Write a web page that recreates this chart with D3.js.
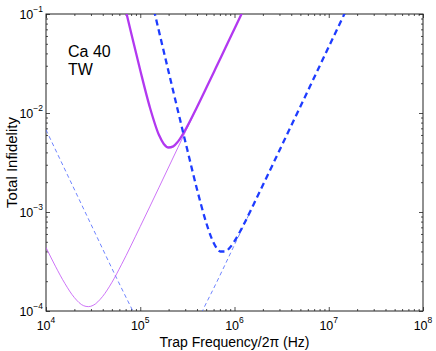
<!DOCTYPE html>
<html>
<head>
<meta charset="utf-8">
<script src="https://cdn.jsdelivr.net/npm/d3@7"></script>
<style>
  body { margin: 0; background: #fff; }
  svg { display: block; }
  text { font-family: "Liberation Sans", Arial, Helvetica, sans-serif; fill: #000; }
</style>
</head>
<body>
<svg id="chart" width="436" height="351"></svg>
<script>
// values (Hz, infidelity)
const purpleThickFreq = [6.92e4, 7.94e4, 1e5, 1.259e5, 1.585e5, 1.778e5, 1.995e5, 2.239e5, 2.512e5, 3.162e5, 3.981e5, 5.012e5, 6.31e5, 7.943e5, 1e6, 1.259e6];
const purpleThickVal  = [0.115, 6.65e-2, 2.70e-2, 1.16e-2, 5.95e-3, 4.87e-3, 4.48e-3, 4.60e-3, 5.14e-3, 7.36e-3, 1.135e-2, 1.785e-2, 2.825e-2, 4.48e-2, 7.10e-2, 0.1125];

const purpleThinFreq = [1e4, 1.259e4, 1.585e4, 1.995e4, 2.512e4, 2.818e4, 3.162e4, 3.981e4, 5.012e4, 6.31e4, 1e5, 1.585e5, 2.512e5, 3.981e5];
const purpleThinVal  = [4.39e-4, 2.83e-4, 1.90e-4, 1.37e-4, 1.13e-4, 1.107e-4, 1.14e-4, 1.40e-4, 1.95e-4, 2.93e-4, 7.14e-4, 1.78e-3, 4.48e-3, 1.125e-2];

const blueThickFreq = [1.318e5, 1.413e5, 1.585e5, 1.995e5, 2.512e5, 3.162e5, 3.981e5, 5.012e5, 5.623e5, 6.31e5, 7.079e5, 7.943e5, 8.913e5, 1e6, 1.259e6, 1.585e6, 2.512e6, 3.981e6, 6.31e6, 1e7, 1.585e7];
const blueThickVal  = [0.138, 0.1047, 6.61e-2, 2.63e-2, 1.05e-2, 4.22e-3, 1.73e-3, 7.78e-4, 5.64e-4, 4.48e-4, 3.99e-4, 3.99e-4, 4.36e-4, 5.08e-4, 7.55e-4, 1.18e-3, 2.94e-3, 7.38e-3, 1.85e-2, 4.66e-2, 0.117];

const blueThinFreq = [1e4, 1.778e4, 3.162e4, 5.623e4, 7.943e4, 1e5, 1.95e5, 3.162e5, 4.467e5, 5.012e5, 5.623e5, 1e6, 1.413e6];
const blueThinVal  = [6.76e-3, 2.14e-3, 6.76e-4, 2.14e-4, 1.1e-4, 7.2e-5, 3.55e-5, 5.3e-5, 9.6e-5, 1.2e-4, 1.49e-4, 4.66e-4, 9.29e-4];

const xMajor = [1e4, 1e5, 1e6, 1e7, 1e8];
const xExp = ["4", "5", "6", "7", "8"];
const yMajor = [1e-4, 1e-3, 1e-2, 1e-1];
const yExp = ["\u22124", "\u22123", "\u22122", "\u22121"];

const svg = d3.select("#chart");
const box = { left: 46, right: 423, top: 14, bottom: 311 };

const x = d3.scaleLog().domain([1e4, 1e8]).range([box.left, box.right]);
const y = d3.scaleLog().domain([1e-4, 1e-1]).range([box.bottom, box.top]);

svg.append("defs").append("clipPath").attr("id", "plotclip")
    .append("rect")
    .attr("x", box.left).attr("y", box.top)
    .attr("width", box.right - box.left).attr("height", box.bottom - box.top);

// minor ticks
const xMinor = [];
for (let d = 1e4; d < 1e8; d *= 10) for (let k = 2; k <= 9; k++) xMinor.push(d * k);
const yMinor = [];
for (let d = 1e-4; d < 1e-1 * 0.99; d *= 10) for (let k = 2; k <= 9; k++) yMinor.push(d * k);

const axisColor = "#222";

function drawAxis(axis, tr, values, size) {
    const g = svg.append("g").attr("transform", tr)
        .call(axis.tickValues(values).tickSize(size).tickFormat(""));
    g.select(".domain").remove();
    g.selectAll("line").attr("stroke", axisColor).attr("stroke-width", 0.8);
}

drawAxis(d3.axisBottom(x), `translate(0,${box.bottom})`, xMajor, -4);
drawAxis(d3.axisBottom(x), `translate(0,${box.bottom})`, xMinor, -2);
drawAxis(d3.axisTop(x), `translate(0,${box.top})`, xMajor, -4);
drawAxis(d3.axisTop(x), `translate(0,${box.top})`, xMinor, -2);
drawAxis(d3.axisLeft(y), `translate(${box.left},0)`, yMajor, -4);
drawAxis(d3.axisLeft(y), `translate(${box.left},0)`, yMinor, -2);
drawAxis(d3.axisRight(y), `translate(${box.right},0)`, yMajor, -4);
drawAxis(d3.axisRight(y), `translate(${box.right},0)`, yMinor, -2);

// frame
svg.append("rect")
    .attr("x", box.left).attr("y", box.top)
    .attr("width", box.right - box.left).attr("height", box.bottom - box.top)
    .attr("fill", "none").attr("stroke", axisColor).attr("stroke-width", 1);

// tick labels
xMajor.forEach((v, i) => {
    const t = svg.append("text")
        .attr("x", x(v)).attr("y", 330)
        .attr("text-anchor", "middle")
        .style("font-size", "12.5px");
    t.append("tspan").text("10");
    t.append("tspan").attr("dy", -7).style("font-size", "8.5px").text(xExp[i]);
});
yMajor.forEach((v, i) => {
    const t = svg.append("text")
        .attr("x", 43).attr("y", y(v) + 5)
        .attr("text-anchor", "end")
        .style("font-size", "12.5px");
    t.append("tspan").text("10");
    t.append("tspan").attr("dy", -7).style("font-size", "8.5px").text(yExp[i]);
});

// axis titles
svg.append("text")
    .attr("x", (box.left + box.right) / 2).attr("y", 347)
    .attr("text-anchor", "middle")
    .style("font-size", "14px")
    .text("Trap Frequency/2\u03c0 (Hz)");

svg.append("text")
    .attr("transform", `translate(17,${(box.top + box.bottom) / 2}) rotate(-90)`)
    .attr("text-anchor", "middle")
    .style("font-size", "15px")
    .text("Total Infidelity");

svg.append("text").attr("x", 68).attr("y", 57).style("font-size", "16px").text("Ca 40");
svg.append("text").attr("x", 68).attr("y", 75).style("font-size", "16px").text("TW");

// curves
const line = d3.line()
    .x(d => x(d[0]))
    .y(d => y(d[1]))
    .curve(d3.curveMonotoneX);

const plot = svg.append("g").attr("clip-path", "url(#plotclip)");

const series = [
    { f: blueThinFreq, v: blueThinVal, color: "#4a64ff", width: 0.8, dash: "4,3" },
    { f: purpleThinFreq, v: purpleThinVal, color: "#c050f5", width: 0.8, dash: null },
    { f: purpleThickFreq, v: purpleThickVal, color: "#b238f0", width: 2.3, dash: null },
    { f: blueThickFreq, v: blueThickVal, color: "#1e3cff", width: 2.3, dash: "6,4" }
];

series.forEach(s => {
    plot.append("path")
        .datum(s.f.map((f, i) => [f, s.v[i]]))
        .attr("d", line)
        .attr("fill", "none")
        .attr("stroke", s.color)
        .attr("stroke-width", s.width)
        .attr("stroke-dasharray", s.dash);
});
</script>
</body>
</html>
